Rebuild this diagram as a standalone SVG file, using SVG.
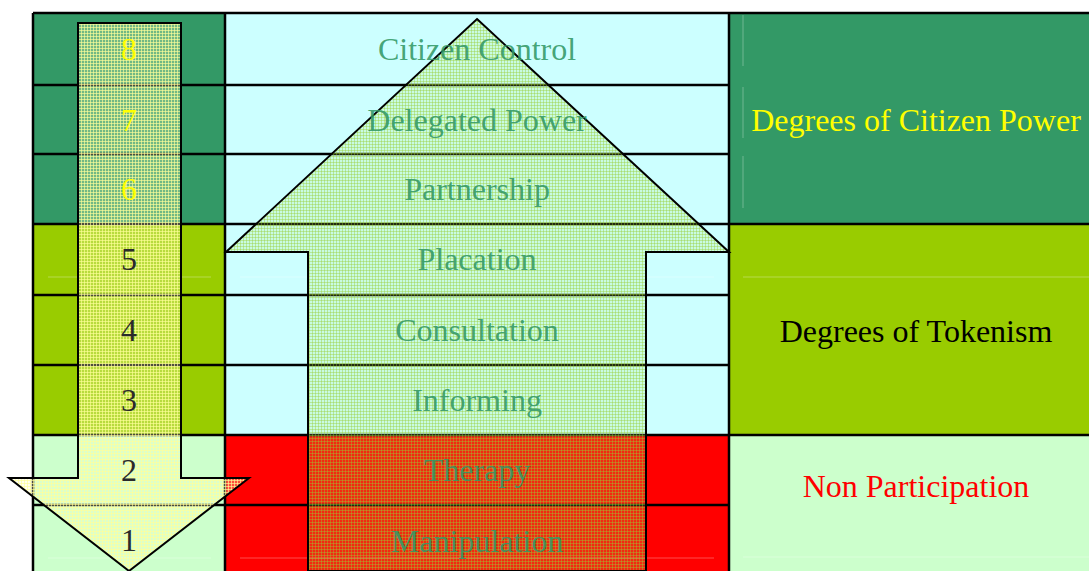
<svg xmlns="http://www.w3.org/2000/svg" width="1089" height="571" viewBox="0 0 1089 571">
  <style>
    .grid { stroke: #000; stroke-width: 2.5; fill: none; }
    .faint { stroke: #fff; stroke-width: 1; opacity: 0.3; fill: none; }
    .lbl { font-family: "Liberation Serif", "Times New Roman", serif; font-size: 32px; text-anchor: middle; }
    .mid { fill: #339966; fill-opacity: 0.9; }
    .num-y { fill: #ffff00; }
    .num-d { fill: #2a2a2a; }
    .arrow { stroke: #000; stroke-width: 2; stroke-linejoin: miter; }
  </style>
  <defs>
    <pattern id="patUp" width="3" height="3" patternUnits="userSpaceOnUse">
      <rect width="3" height="3" fill="#b8e860" fill-opacity="0.18"/>
      <rect width="3" height="1" fill="#99cc33" fill-opacity="0.4"/>
      <rect width="1" height="3" fill="#99cc33" fill-opacity="0.4"/>
    </pattern>
    <pattern id="patDown" width="3" height="3" patternUnits="userSpaceOnUse">
      <rect width="3" height="3" fill="#ffffcc" fill-opacity="0.3"/>
      <rect width="3" height="1" fill="#ffff99" fill-opacity="0.65"/>
      <rect width="1" height="3" fill="#ffff99" fill-opacity="0.65"/>
    </pattern>
  </defs>

  <rect width="1089" height="571" fill="#ffffff"/>

  <!-- table backgrounds -->
  <g id="table">
    <rect x="33" y="13" width="192" height="211" fill="#339966"/>
    <rect x="33" y="224" width="192" height="211" fill="#99cc00"/>
    <rect x="33" y="435" width="192" height="136" fill="#ccffcc"/>
    <rect x="225" y="13" width="504" height="422" fill="#ccffff"/>
    <rect x="225" y="435" width="504" height="136" fill="#ff0000"/>
    <rect x="729" y="13" width="360" height="211" fill="#339966"/>
    <rect x="729" y="224" width="360" height="211" fill="#99cc00"/>
    <rect x="729" y="435" width="360" height="136" fill="#ccffcc"/>

    <!-- faint cell artifacts -->
    <path class="faint" d="M48 277H211M240 277H714M743 277H1089M48 558H211M240 558H714M743 557H1089M743 15V66M743 87V138M743 156V208"/>

    <!-- grid lines -->
    <path class="grid" d="M33 13H1089M33 224H1089M33 435H1089M33 85H729M33 154H729M33 295H729M33 365H729M33 505H729M33 13V571M225 13V571M729 13V571"/>
  </g>

  <!-- arrows -->
  <g id="connectors">
    <path id="up-arrow" class="arrow" fill="url(#patUp)" d="M477 19L729 252H646V571H308V252H226Z"/>
    <path id="down-arrow" class="arrow" fill="url(#patDown)" d="M78 23H181V478H249L129 571L9 478H78Z"/>
  </g>

  <!-- level numbers -->
  <g id="numbers" class="lbl">
    <text class="num-y" x="129" y="60">8</text>
    <text class="num-y" x="129" y="131">7</text>
    <text class="num-y" x="129" y="200">6</text>
    <text class="num-d" x="129" y="270">5</text>
    <text class="num-d" x="129" y="341">4</text>
    <text class="num-d" x="129" y="411">3</text>
    <text class="num-d" x="129" y="481">2</text>
    <text class="num-d" x="129" y="551">1</text>
  </g>

  <!-- rung labels -->
  <g id="rungs" class="lbl mid">
    <text id="citizen-control" x="477" y="60">Citizen Control</text>
    <text id="delegated-power" x="477" y="131">Delegated Power</text>
    <text id="partnership" x="477" y="200">Partnership</text>
    <text id="placation" x="477" y="270">Placation</text>
    <text id="consultation" x="477" y="341">Consultation</text>
    <text id="informing" x="477" y="411">Informing</text>
    <text id="therapy" x="477" y="481">Therapy</text>
    <text id="manipulation" x="477" y="552">Manipulation</text>
  </g>

  <!-- group labels -->
  <g id="groups" class="lbl">
    <text id="citizen-power" x="916" y="131" fill="#ffff00">Degrees of Citizen Power</text>
    <text id="tokenism" x="916" y="342" fill="#000000">Degrees of Tokenism</text>
    <text id="non-participation" x="916" y="497" fill="#ff0000">Non Participation</text>
  </g>
</svg>
